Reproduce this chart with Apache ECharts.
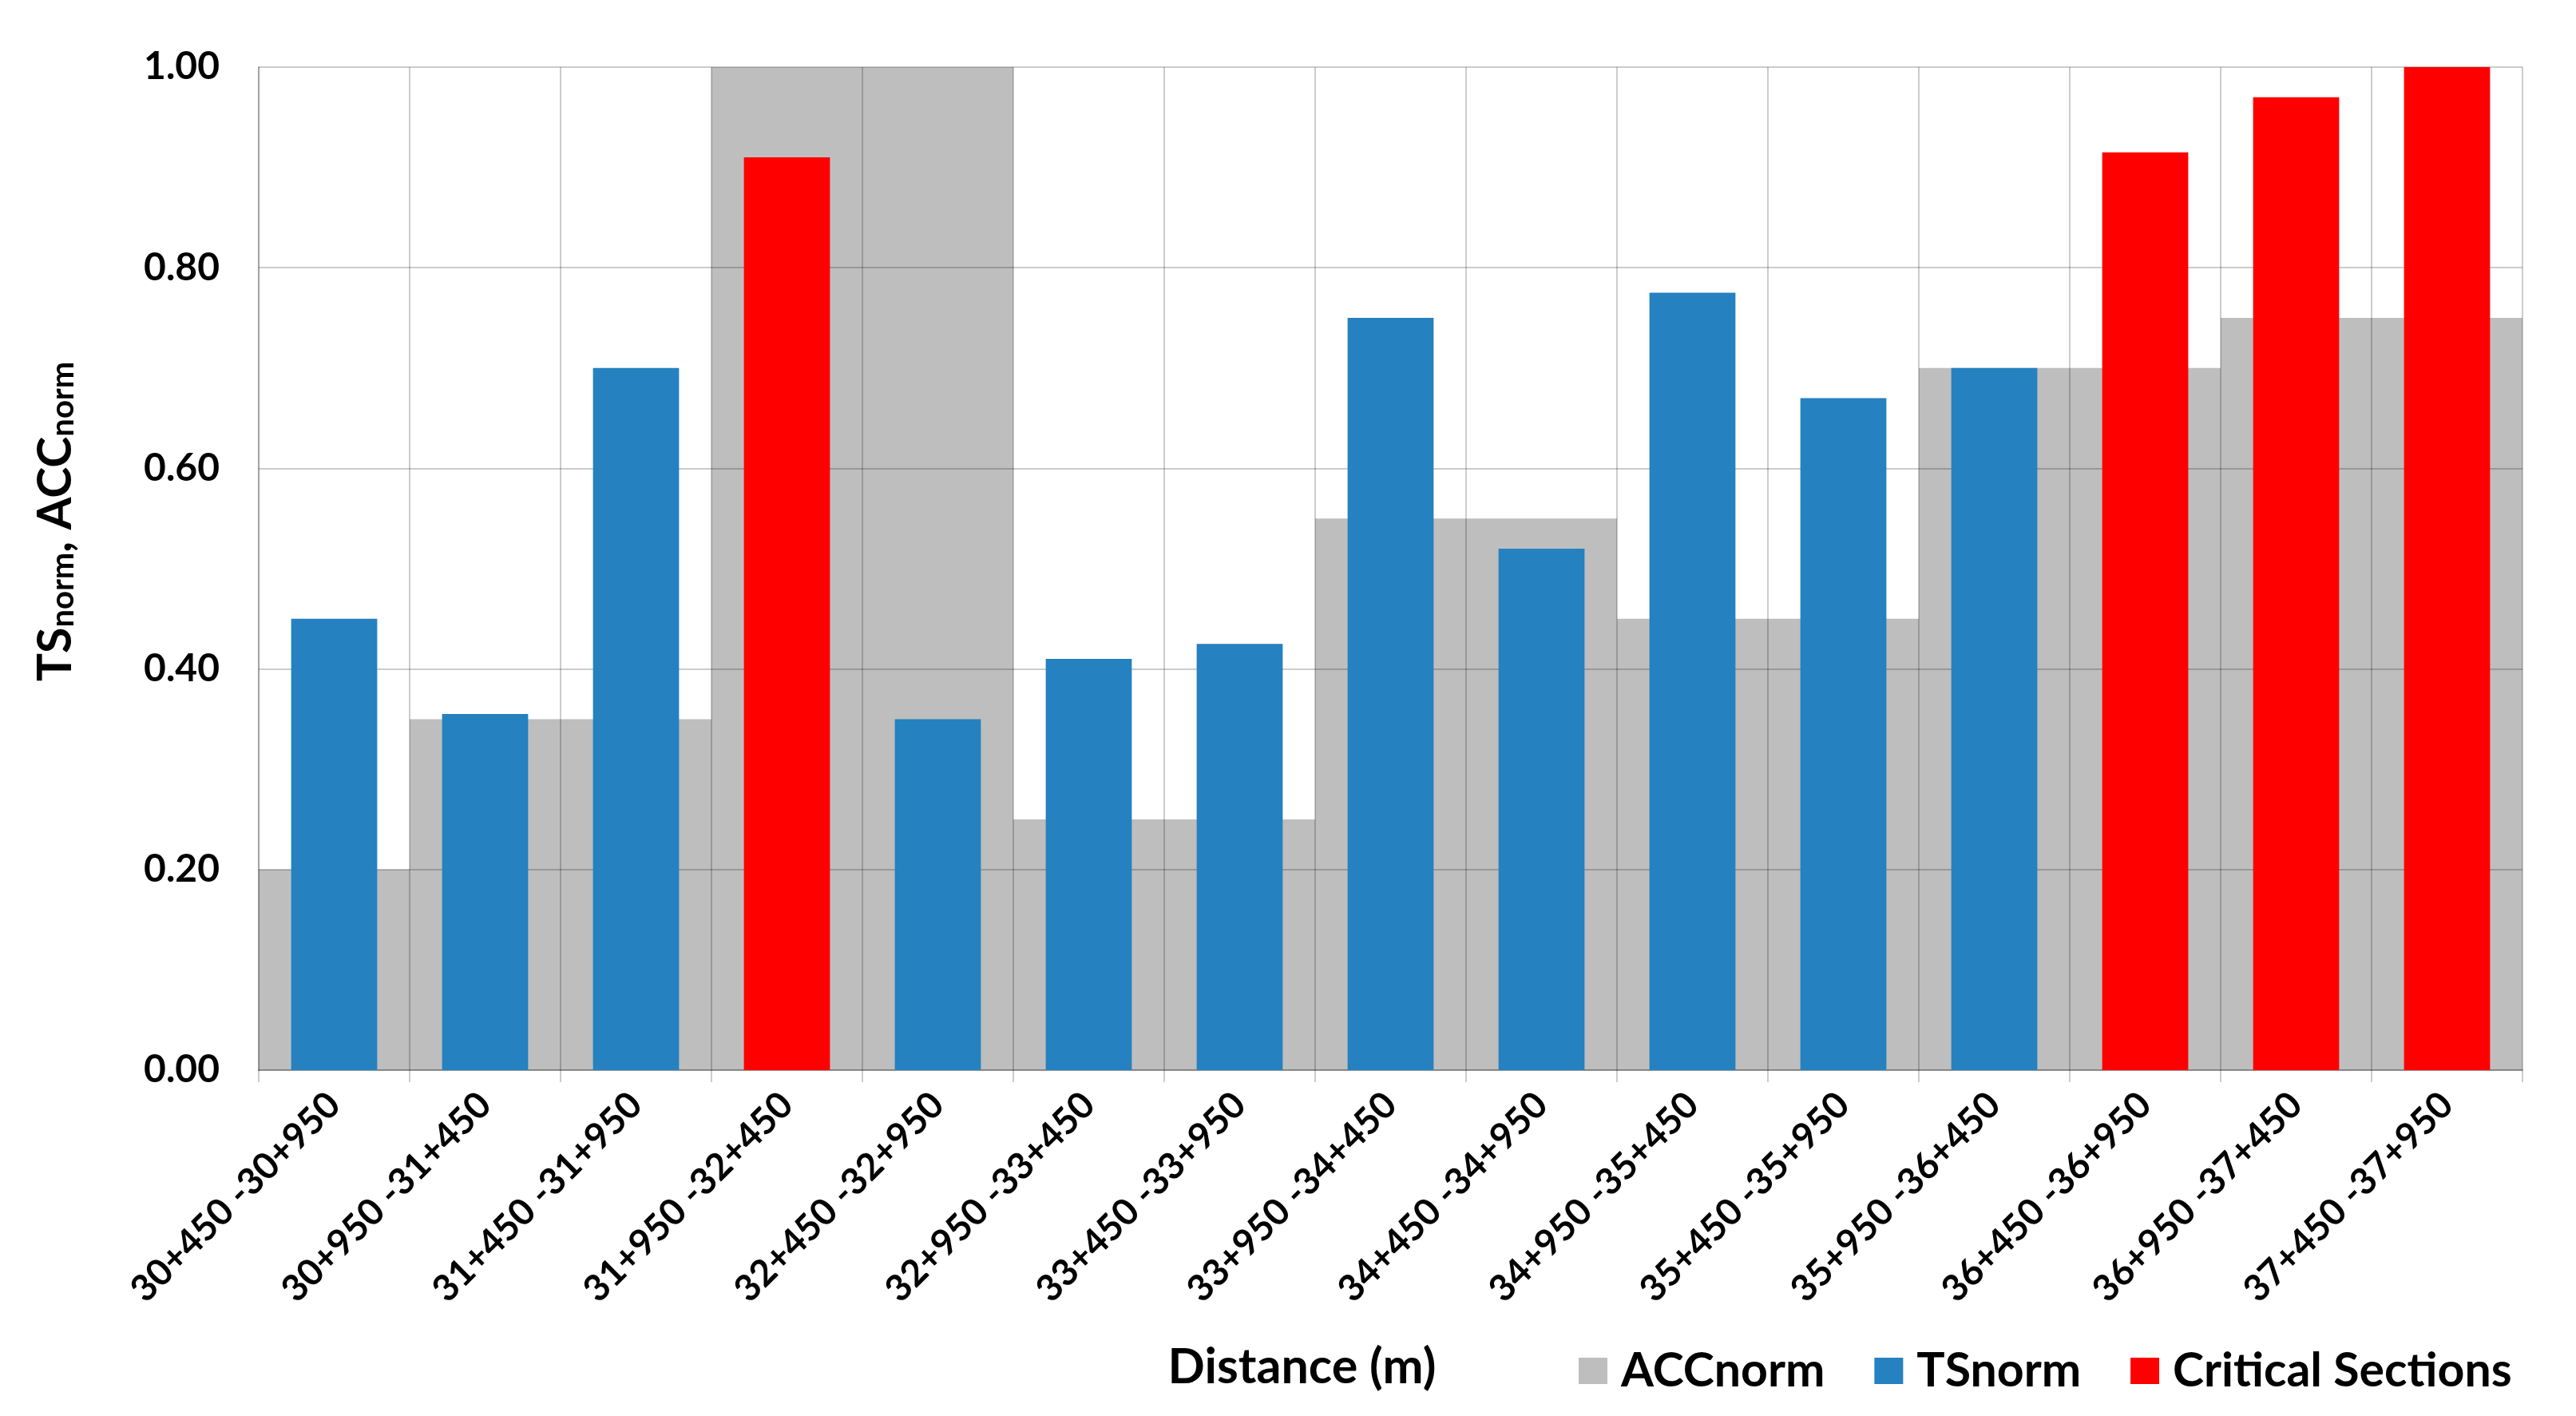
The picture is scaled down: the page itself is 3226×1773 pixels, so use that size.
<!DOCTYPE html>
<html>
<head>
<meta charset="utf-8">
<script src="https://cdn.jsdelivr.net/npm/echarts@6/dist/echarts.min.js"></script>
<style>
html,body{margin:0;padding:0;background:#fff;}
#chart{width:3226px;height:1773px;}
</style>
</head>
<body>
<div id="chart"></div>
<script>
const categories = ['30+450 -30+950', '30+950 -31+450', '31+450 -31+950', '31+950 -32+450', '32+450 -32+950', '32+950 -33+450', '33+450 -33+950', '33+950 -34+450', '34+450 -34+950', '34+950 -35+450', '35+450 -35+950', '35+950 -36+450', '36+450 -36+950', '36+950 -37+450', '37+450 -37+950'];
const accNorm = [0.20, 0.35, 0.35, 1.00, 1.00, 0.25, 0.25, 0.55, 0.55, 0.45, 0.45, 0.70, 0.70, 0.75, 0.75];
const tsNorm = [0.45, 0.355, 0.70, null, 0.35, 0.41, 0.425, 0.75, 0.52, 0.775, 0.67, 0.70, null, null, null];
const criticalSections = [null, null, null, 0.91, null, null, null, null, null, null, null, null, 0.915, 0.97, 1.00];
const yTicks = { min: 0, max: 1, interval: 0.2 };

const FONT = 'Lato';
const gridColor = 'rgba(0,0,0,0.2)';

const chart = echarts.init(document.getElementById('chart'), null, { renderer: 'canvas' });
chart.setOption({
  backgroundColor: '#ffffff',
  animation: false,
  grid: { left: 324, right: 67, top: 84, bottom: 433 },
  legend: {
    left: 1972,
    top: 1682,
    icon: 'rect',
    itemWidth: 36,
    itemHeight: 33,
    itemGap: 62,
    textStyle: { fontFamily: FONT, fontWeight: 'bold', fontSize: 59, color: '#000', padding: [0, 0, 0, 12] },
    data: ['ACCnorm', 'TSnorm', 'Critical Sections']
  },
  xAxis: [
    {
      type: 'category',
      data: categories,
      z: 3,
      name: 'Distance (m)',
      nameLocation: 'middle',
      nameGap: 342,
      nameTextStyle: { fontFamily: FONT, fontWeight: 'bold', fontSize: 61, color: '#000', padding: [0, 222, 0, 0] },
      axisLine: { show: true, lineStyle: { color: 'rgba(0,0,0,0.22)', width: 2 } },
      axisTick: { show: true, length: 15, lineStyle: { color: gridColor, width: 2 } },
      splitLine: { show: true, lineStyle: { color: gridColor, width: 2 } },
      axisLabel: { interval: 0, rotate: 45, margin: 36, fontFamily: FONT, fontWeight: 'bold', fontSize: 46, color: '#000' }
    },
    {
      type: 'category',
      data: categories,
      show: false
    }
  ],
  yAxis: {
    type: 'value',
    min: yTicks.min,
    max: yTicks.max,
    interval: yTicks.interval,
    z: 3,
    name: '{m|TS}{s|norm}{m|, ACC}{s|norm}',
    nameLocation: 'middle',
    nameGap: 225,
    nameTextStyle: {
      padding: [0, 0, 0, 118],
      rich: {
        m: { fontFamily: FONT, fontWeight: 'bold', fontSize: 59, color: '#000', lineHeight: 80, verticalAlign: 'bottom' },
        s: { fontFamily: FONT, fontWeight: 'bold', fontSize: 40, color: '#000', lineHeight: 32, verticalAlign: 'bottom' }
      }
    },
    axisLine: { show: true, lineStyle: { color: gridColor, width: 2 } },
    axisTick: { show: false },
    splitLine: { show: true, lineStyle: { color: gridColor, width: 2 } },
    axisLabel: {
      margin: 49,
      fontFamily: FONT, fontWeight: 'bold', fontSize: 48, color: '#000',
      formatter: v => v.toFixed(2)
    }
  },
  series: [
    {
      name: 'ACCnorm',
      type: 'bar',
      xAxisIndex: 1,
      data: accNorm,
      barWidth: '100%',
      z: 1,
      itemStyle: { color: '#bebebe' }
    },
    {
      name: 'TSnorm',
      type: 'bar',
      xAxisIndex: 0,
      data: tsNorm,
      barWidth: '57%',
      barGap: '-100%',
      z: 5,
      itemStyle: { color: '#2581c0' }
    },
    {
      name: 'Critical Sections',
      type: 'bar',
      xAxisIndex: 0,
      data: criticalSections,
      barWidth: '57%',
      barGap: '-100%',
      z: 5,
      itemStyle: { color: '#ff0000' }
    }
  ]
});
</script>
</body>
</html>
